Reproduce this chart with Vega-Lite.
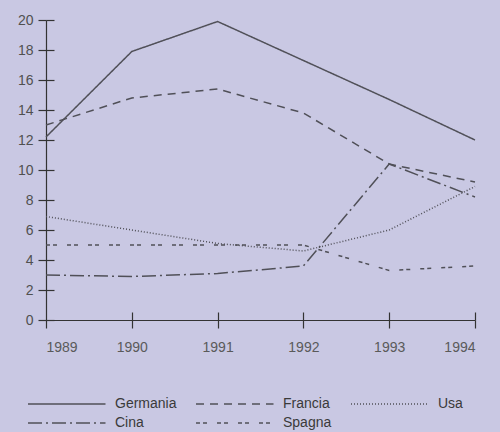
{
  "$schema": "https://vega.github.io/schema/vega-lite/v6.json",
  "width": 429,
  "height": 300,
  "autosize": {"type": "none"},
  "padding": {"left": 46, "top": 20, "right": 25, "bottom": 112},
  "background": "#c9c8e3",
  "config": {
    "view": {"stroke": null},
    "font": "Liberation Sans",
    "axis": {"labelFont": "Liberation Sans", "labelFontSize": 14, "labelColor": "#505050", "domainColor": "#333333", "tickColor": "#333333", "grid": false, "domainWidth": 1.2, "tickWidth": 1.2},
    "legend": {"labelFont": "Liberation Sans", "labelFontSize": 14, "labelColor": "#3a3a3a"}
  },
  "data": {"values": [
    {"year": 1989, "country": "Germania", "value": 12.2},
    {"year": 1990, "country": "Germania", "value": 17.9},
    {"year": 1991, "country": "Germania", "value": 19.9},
    {"year": 1992, "country": "Germania", "value": 17.3},
    {"year": 1993, "country": "Germania", "value": 14.7},
    {"year": 1994, "country": "Germania", "value": 12.0},
    {"year": 1989, "country": "Francia", "value": 13.0},
    {"year": 1990, "country": "Francia", "value": 14.8},
    {"year": 1991, "country": "Francia", "value": 15.4},
    {"year": 1992, "country": "Francia", "value": 13.8},
    {"year": 1993, "country": "Francia", "value": 10.4},
    {"year": 1994, "country": "Francia", "value": 9.2},
    {"year": 1989, "country": "Usa", "value": 6.9},
    {"year": 1990, "country": "Usa", "value": 6.0},
    {"year": 1991, "country": "Usa", "value": 5.1},
    {"year": 1992, "country": "Usa", "value": 4.6},
    {"year": 1993, "country": "Usa", "value": 6.0},
    {"year": 1994, "country": "Usa", "value": 8.9},
    {"year": 1989, "country": "Cina", "value": 3.0},
    {"year": 1990, "country": "Cina", "value": 2.9},
    {"year": 1991, "country": "Cina", "value": 3.1},
    {"year": 1992, "country": "Cina", "value": 3.6},
    {"year": 1993, "country": "Cina", "value": 10.4},
    {"year": 1994, "country": "Cina", "value": 8.2},
    {"year": 1989, "country": "Spagna", "value": 5.0},
    {"year": 1990, "country": "Spagna", "value": 5.0},
    {"year": 1991, "country": "Spagna", "value": 5.0},
    {"year": 1992, "country": "Spagna", "value": 5.0},
    {"year": 1993, "country": "Spagna", "value": 3.3},
    {"year": 1994, "country": "Spagna", "value": 3.6}
  ]},
  "layer": [
    {
      "mark": {"type": "line", "strokeWidth": 1.5, "color": "#505058"},
      "encoding": {
        "x": {"field": "year", "type": "quantitative", "scale": {"domain": [1989, 1994], "nice": false, "zero": false},
          "axis": {"title": null, "orient": "bottom", "values": [1989, 1990, 1991, 1992, 1993, 1994], "format": "d", "tickSize": 8, "labelPadding": 12, "labelColor": "#5a5a5a"}},
        "y": {"field": "value", "type": "quantitative", "scale": {"domain": [0, 20], "nice": false},
          "axis": {"title": null, "orient": "left", "values": [0, 2, 4, 6, 8, 10, 12, 14, 16, 18, 20], "tickSize": 8, "labelPadding": 5}},
        "strokeDash": {"field": "country", "type": "nominal",
          "scale": {"domain": ["Germania", "Francia", "Usa", "Cina", "Spagna"],
                    "range": [[1, 0], [8, 6], [1, 2], [14, 4, 2, 4], [4, 3, 4, 10]]},
          "legend": {"title": null, "orient": "none", "legendX": -25, "legendY": 377, "direction": "horizontal", "columns": 3,
                     "symbolType": "M0,0H31", "symbolSize": 25, "symbolStrokeWidth": 1.5, "symbolStrokeColor": "#505058",
                     "columnPadding": 12, "rowPadding": 5, "labelOffset": 80}}
      }
    },
    {
      "mark": {"type": "line", "strokeOpacity": 0},
      "encoding": {
        "x": {"field": "year", "type": "quantitative",
          "axis": {"title": null, "orient": "bottom", "values": [1990, 1991, 1992, 1993, 1994], "labels": false, "domain": false, "tickSize": -8}},
        "y": {"field": "value", "type": "quantitative",
          "axis": {"title": null, "orient": "left", "values": [0, 2, 4, 6, 8, 10, 12, 14, 16, 18, 20], "labels": false, "domain": false, "tickSize": -8}},
        "detail": {"field": "country"}
      }
    }
  ],
  "resolve": {"axis": {"x": "independent", "y": "independent"}}
}
